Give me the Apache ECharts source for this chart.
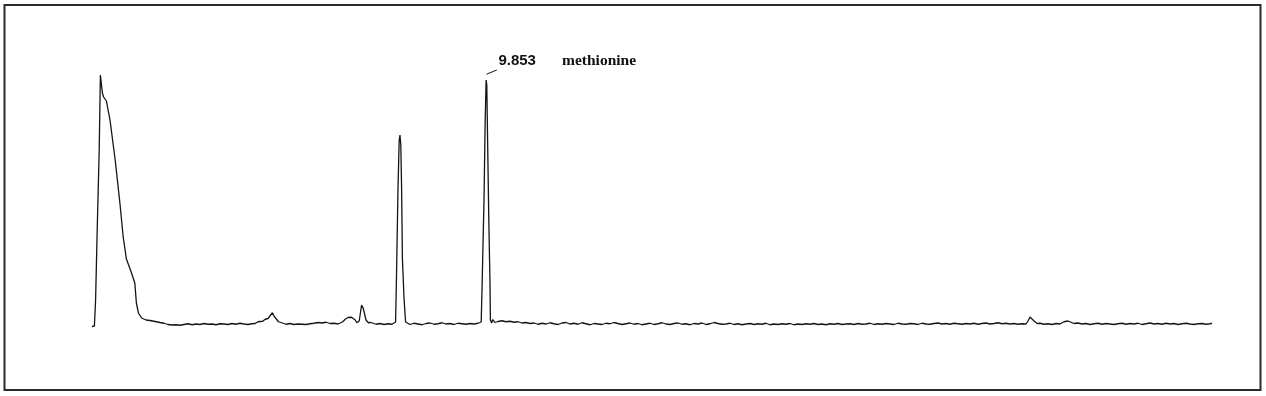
<!DOCTYPE html>
<html>
<head>
<meta charset="utf-8">
<script src="https://cdn.jsdelivr.net/npm/echarts@6/dist/echarts.min.js"></script>
<style>
html,body{margin:0;padding:0;background:#fff;}
#chart{width:1266px;height:396px;}
</style>
</head>
<body>
<div id="chart"></div>
<script>
// Retention time (min) and detector response (relative units)
const solventFront = [[0,-1.0],[0.06,-0.8],[0.09,9.6],[0.13,37.6],[0.18,69.6],[0.21,99.6],[0.23,99.2],[0.26,92.4],[0.29,90.8],[0.33,91.2],[0.36,89.2],[0.45,81.6],[0.58,65.6],[0.70,48.0],[0.78,34.8],[0.86,26.0],[0.98,20.8],[1.07,16.4],[1.11,8.4],[1.16,4.4],[1.24,2.4],[1.35,1.6],[1.45,1.4],[1.58,1.0],[1.70,0.6]];
const baselineA = [[1.8,0.3],[1.9,-0.2],[2.0,-0.4],[2.1,-0.3],[2.2,-0.5],[2.3,-0.2],[2.4,0.1],[2.5,-0.3],[2.6,0.0],[2.7,-0.2],[2.8,0.2],[2.9,-0.1],[3.0,0.0],[3.1,-0.3],[3.2,0.1],[3.3,0.0],[3.4,-0.2],[3.5,0.2],[3.6,-0.1],[3.7,0.3],[3.8,0.0],[3.9,-0.2],[4.0,0.1]];
const smallPeak1 = [[4.08,0.2],[4.15,0.9],[4.2,1.3],[4.27,1.1],[4.33,1.9],[4.4,2.2],[4.45,2.9],[4.51,4.5],[4.56,2.9],[4.61,2.0],[4.66,0.9],[4.72,0.6],[4.78,0.3]];
const baselineB = [[4.85,-0.1],[4.95,0.2],[5.05,-0.2],[5.15,0.0],[5.25,-0.1],[5.35,-0.2],[5.45,0.1],[5.55,0.3],[5.65,0.6],[5.75,0.4],[5.85,0.7],[5.95,0.2],[6.05,0.3],[6.15,0.0]];
const smallPeak2 = [[6.2,0.1],[6.27,0.9],[6.33,1.9],[6.4,2.6],[6.45,3.2],[6.49,2.7],[6.53,2.9],[6.58,1.6],[6.62,0.5],[6.68,1.2],[6.74,7.6],[6.78,6.3],[6.85,1.6],[6.91,0.5],[6.97,0.6],[7.03,0.3]];
const baselineC = [[7.1,-0.1],[7.2,0.2],[7.3,-0.2],[7.4,0.1],[7.5,-0.1]];
const peak2 = [[7.55,0.2],[7.59,0.8],[7.61,16.8],[7.65,54.4],[7.68,73.6],[7.70,75.6],[7.72,71.6],[7.74,54.4],[7.76,26.4],[7.80,10.4],[7.84,0.8],[7.88,0.4]];
const baselineD = [[7.95,-0.2],[8.05,0.3],[8.15,0.0],[8.25,-0.3],[8.35,0.2],[8.45,0.4],[8.55,-0.1],[8.65,0.1],[8.75,0.5],[8.85,0.0],[8.95,0.2],[9.05,-0.2],[9.15,0.3],[9.25,0.1],[9.35,-0.1],[9.45,0.2],[9.55,0.0],[9.65,0.3]];
const methioninePeak = [[9.70,0.2],[9.73,0.8],[9.75,13.6],[9.80,49.6],[9.83,81.6],[9.853,97.6],[9.87,95.6],[9.89,73.6],[9.92,41.6],[9.95,16.4],[9.96,1.6],[9.99,0.4],[10.02,1.8],[10.07,0.6]];
const baselineE = [[10.15,1.0],[10.25,1.3],[10.35,0.9],[10.45,1.1],[10.55,0.7],[10.65,0.9],[10.75,0.4],[10.85,0.6],[10.95,0.2],[11.05,0.4],[11.15,-0.1],[11.25,0.3],[11.35,0.0],[11.45,0.5],[11.55,0.1],[11.65,-0.2],[11.75,0.4],[11.85,0.6],[11.95,0.0],[12.05,0.3],[12.15,-0.1],[12.25,0.5],[12.35,0.1],[12.45,-0.3],[12.55,0.2],[12.65,0.0],[12.75,-0.2],[12.85,0.3],[12.95,0.1],[13.05,0.6],[13.15,0.2],[13.25,-0.2],[13.35,0.1],[13.45,0.4],[13.55,-0.1],[13.65,0.2],[13.75,-0.3],[13.85,0.0],[13.95,0.3],[14.05,-0.2],[14.15,0.1],[14.25,0.5],[14.35,0.0],[14.45,-0.2],[14.55,0.2],[14.65,0.4],[14.75,-0.1],[14.85,0.1],[14.95,-0.3],[15.05,0.2],[15.15,0.0],[15.25,0.4],[15.35,-0.2],[15.45,0.1],[15.55,0.6],[15.65,0.2],[15.75,-0.1],[15.85,0.0],[15.95,0.3],[16.05,-0.2],[16.15,0.1],[16.25,-0.3],[16.35,0.0],[16.45,0.2],[16.55,-0.2],[16.65,0.1],[16.75,-0.1],[16.85,0.3],[16.95,-0.3],[17.05,0.0],[17.15,-0.2],[17.25,0.1],[17.35,-0.1],[17.45,0.2],[17.55,-0.3],[17.65,0.0],[17.75,-0.2],[17.85,0.1],[17.95,-0.1],[18.05,0.2],[18.15,-0.2],[18.25,0.0],[18.35,-0.3],[18.45,0.1],[18.55,-0.1],[18.65,0.2],[18.75,-0.2],[18.85,0.0],[18.95,0.1],[19.05,-0.2],[19.15,0.2],[19.25,-0.1],[19.35,0.0],[19.45,0.3],[19.55,-0.2],[19.65,0.1],[19.75,-0.1],[19.85,0.2],[19.95,0.0],[20.05,-0.2],[20.15,0.3],[20.25,0.0],[20.35,-0.1],[20.45,0.2],[20.55,0.1],[20.65,-0.2],[20.75,0.3],[20.85,0.0],[20.95,-0.1],[21.05,0.2],[21.15,0.4],[21.25,0.0],[21.35,0.2],[21.45,-0.1],[21.55,0.3],[21.65,0.1],[21.75,-0.1],[21.85,0.2],[21.95,0.0],[22.05,0.3],[22.15,-0.1],[22.25,0.2],[22.35,0.4],[22.45,0.0],[22.55,0.2],[22.65,0.5],[22.75,0.1],[22.85,0.3],[22.95,0.0],[23.05,0.2],[23.15,-0.1],[23.25,0.1]];
const smallPeak3 = [[23.35,0.0],[23.4,1.2],[23.45,2.8],[23.5,2.4],[23.55,1.2],[23.63,0.2]];
const baselineF = [[23.7,0.3],[23.8,-0.1],[23.9,0.1],[24.0,-0.2],[24.1,0.2],[24.2,0.0]];
const smallPeak4 = [[24.25,0.2],[24.3,0.9],[24.35,1.6],[24.4,1.2],[24.45,0.8],[24.55,0.2]];
const baselineG = [[24.65,0.4],[24.75,0.0],[24.85,0.2],[24.95,-0.2],[25.05,0.1],[25.15,0.3],[25.25,-0.1],[25.35,0.2],[25.45,0.0],[25.55,-0.2],[25.65,0.1],[25.75,0.3],[25.85,-0.1],[25.95,0.2],[26.05,0.0],[26.15,0.3],[26.25,-0.2],[26.35,0.1],[26.45,0.4],[26.55,0.0],[26.65,0.2],[26.75,-0.1],[26.85,0.3],[26.95,0.0],[27.05,0.2],[27.15,-0.2],[27.25,0.1],[27.35,0.3],[27.45,0.0],[27.55,-0.2],[27.65,0.1],[27.75,0.2],[27.85,-0.1],[27.95,0.1],[28.0,0.3]];

// Peak annotation
const peakLabel = '9.853';
const peakName = 'methionine';
const leaderFrom = [9.86, 99.9];
const leaderTo = [10.12, 101.6];
const peakLabelAt = [10.16, 105.2];
const peakNameAt = [11.75, 105.4];

const trace = [].concat(solventFront, baselineA, smallPeak1, baselineB, smallPeak2, baselineC, peak2, baselineD, methioninePeak, baselineE, smallPeak3, baselineF, smallPeak4, baselineG);

const chart = echarts.init(document.getElementById('chart'), null, {renderer:'canvas'});
chart.setOption({
  backgroundColor:'#ffffff',
  animation:false,
  grid:{left:92, right:54, top:49, bottom:67},
  xAxis:{type:'value', min:0, max:28, show:false},
  yAxis:{type:'value', min:-2, max:110, show:false},
  series:[{
    type:'line',
    data:trace,
    showSymbol:false,
    symbol:'none',
    clip:false,
    lineStyle:{color:'#151515', width:1.3},
    markLine:{
      silent:true,
      symbol:'none',
      label:{show:false},
      lineStyle:{color:'#151515', width:1, type:'solid'},
      data:[[{coord:leaderFrom},{coord:leaderTo}]]
    }
  }]
});

const p1 = chart.convertToPixel({gridIndex:0}, peakLabelAt);
const p2 = chart.convertToPixel({gridIndex:0}, peakNameAt);
chart.setOption({
  graphic:[
    {type:'rect', shape:{x:4.5, y:5, width:1256, height:385}, style:{fill:'none', stroke:'#2b2b2b', lineWidth:2}, silent:true},
    {type:'text', x:p1[0], y:p1[1], style:{text:peakLabel, font:'bold 15px "Liberation Sans", Arial, sans-serif', fill:'#111', textAlign:'left', textVerticalAlign:'middle'}},
    {type:'text', x:p2[0], y:p2[1], style:{text:peakName, font:'bold 15.5px "Liberation Serif", "Times New Roman", serif', fill:'#111', textAlign:'left', textVerticalAlign:'middle'}}
  ]
});
</script>
</body>
</html>
